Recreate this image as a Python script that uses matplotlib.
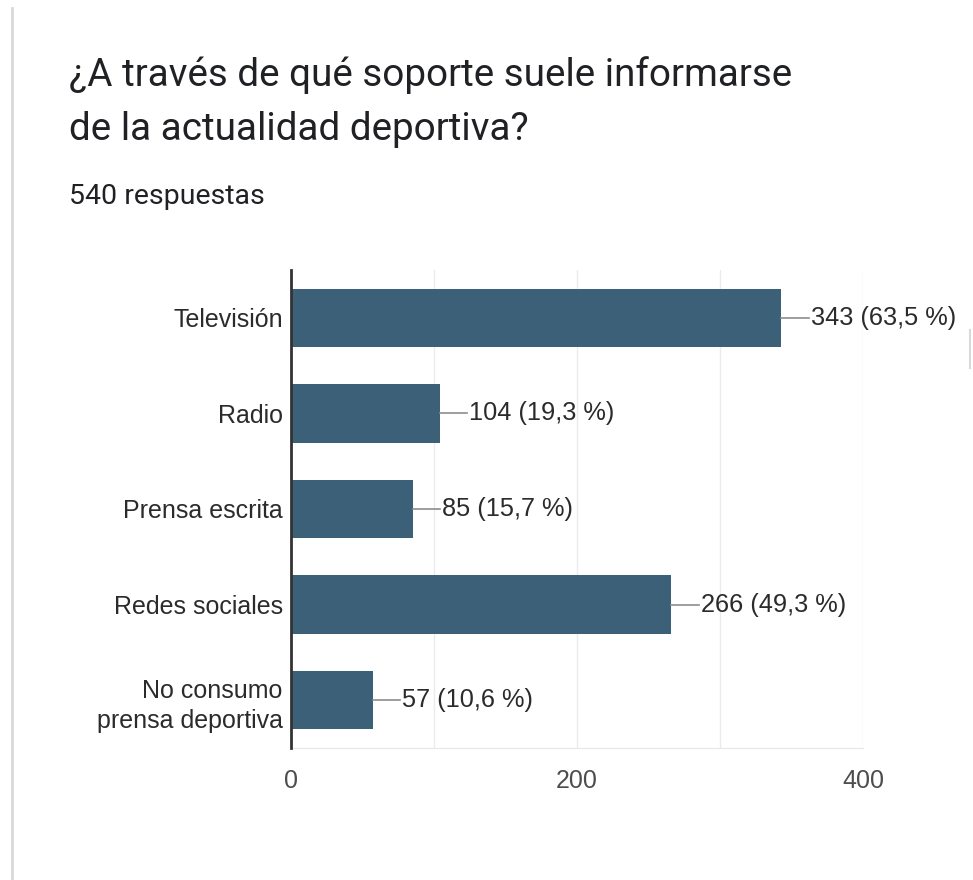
import matplotlib.pyplot as plt
from matplotlib.lines import Line2D

plt.rcParams['font.family'] = ['Roboto', 'DejaVu Sans']

# Respuestas de la encuesta
categorias = ['Televisión', 'Radio', 'Prensa escrita', 'Redes sociales',
              'No consumo\nprensa deportiva']
respuestas = [343, 104, 85, 266, 57]
porcentajes = ['63,5', '19,3', '15,7', '49,3', '10,6']
total = 540

BAR_COLOR = '#3b6077'
TEXT_COLOR = '#2b2b2b'
ARIAL = ['Liberation Sans', 'DejaVu Sans']

fig = plt.figure(figsize=(9.73, 8.8), dpi=100)
fig.patch.set_facecolor('white')

# marco de la tarjeta
fig.add_artist(Line2D([12 / 973, 12 / 973], [0, 1 - 8 / 880],
                      color='#d9d9d9', lw=2, transform=fig.transFigure))
fig.add_artist(Line2D([970 / 973, 970 / 973], [1 - 330 / 880, 1 - 368 / 880],
                      color='#d9d9d9', lw=1.5, transform=fig.transFigure))

fig.text(69 / 973, 1 - 75 / 880, '¿A través de qué soporte suele informarse',
         fontsize=27.8, color='#202124', va='center', ha='left')
fig.text(69 / 973, 1 - 130 / 880, 'de la actualidad deportiva?',
         fontsize=27.8, color='#202124', va='center', ha='left')
fig.text(69 / 973, 1 - 196 / 880, '%d respuestas' % total,
         fontsize=20.5, color='#202124', va='center', ha='left')

ax = fig.add_axes([291 / 973, 1 - 748 / 880, (863 - 291) / 973, (748 - 270) / 880])

y = range(len(categorias))
ax.barh(y, respuestas, height=0.61, color=BAR_COLOR, zorder=3)
ax.set_ylim(len(categorias) - 0.5, -0.5)
ax.set_xlim(0, 400)

ax.set_yticks(list(y))
ax.set_yticklabels(categorias, fontsize=18, color=TEXT_COLOR,
                   family=ARIAL, linespacing=1.35)
ax.set_xticks([0, 200, 400])
ax.set_xticklabels(['0', '200', '400'], fontsize=18, color='#4d4d4d',
                   family=ARIAL)
ax.set_xticks([100, 300], minor=True)
ax.tick_params(axis='both', which='both', length=0)
ax.tick_params(axis='x', pad=15)
ax.tick_params(axis='y', pad=6)

ax.grid(axis='x', which='both', color='#ebebeb', lw=1, zorder=0)
for lado in ['top', 'right']:
    ax.spines[lado].set_visible(False)
ax.spines['bottom'].set_color('#e6e6e6')
ax.spines['left'].set_color('#333333')
ax.spines['left'].set_linewidth(2)
ax.spines['left'].set_zorder(4)

# etiquetas con linea guia
for i, (v, p) in enumerate(zip(respuestas, porcentajes)):
    ax.plot([v, v + 19], [i, i], color='#8c8c8c', lw=1.2, zorder=4,
            clip_on=False)
    ax.text(v + 20.5, i, '%d (%s %%)' % (v, p), fontsize=18.3,
            family=ARIAL, color=TEXT_COLOR, va='center', ha='left',
            clip_on=False)

fig.savefig('out.png', dpi=100, facecolor='white')
